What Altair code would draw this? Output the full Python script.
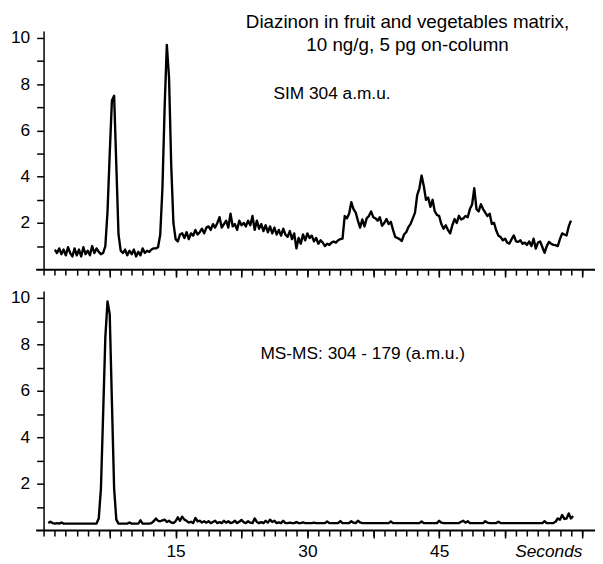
import altair as alt
import pandas as pd

FONT = "Liberation Sans"

# ---- sampled chromatogram traces (time grid start / step in seconds) ----
sample_step = 0.25
sim_start = 1.25
sim_values = [
    0.85, 0.7, 0.9,
    0.65, 0.85, 0.6, 0.95,
    0.7, 0.55, 0.9, 0.6,
    0.85, 0.55, 0.95, 0.65,
    0.8, 0.6, 1.0, 0.7,
    0.9, 0.75, 0.65, 0.7,
    1.0, 2.5, 5.0, 7.3,
    7.5, 4.5, 1.5, 0.8,
    0.7, 0.85, 0.6, 0.8,
    0.65, 0.85, 0.55, 0.75,
    0.6, 0.9, 0.7, 0.8,
    0.75, 0.85, 0.9, 0.9,
    0.95, 1.5, 3.5, 7.0,
    9.7, 8.3, 4.5, 2.0,
    1.3, 1.2, 1.5, 1.55,
    1.35, 1.6, 1.3, 1.55,
    1.45, 1.7, 1.5, 1.6,
    1.75, 1.55, 1.8, 1.85,
    1.7, 1.95, 1.8, 2.0,
    2.25, 1.8, 1.95, 2.1,
    1.8, 2.4, 1.85, 1.95,
    1.7, 2.1, 1.9, 2.0,
    1.85, 2.1, 1.9, 2.3,
    1.7, 2.1, 1.75, 1.95,
    1.65, 1.9, 1.6, 1.85,
    1.55, 1.8, 1.5, 1.7,
    1.45, 1.75, 1.5, 1.4,
    1.65, 1.3, 1.55, 0.9,
    1.35, 1.1, 1.5, 1.25,
    1.55, 1.35, 1.45, 1.2,
    1.35, 1.1, 1.25, 1.15,
    1.0, 1.1, 1.05, 1.15,
    1.2, 1.15, 1.25, 1.3,
    1.32, 2.3, 2.2, 2.4,
    2.9, 2.6, 2.45, 2.1,
    1.8, 2.15, 1.85, 2.2,
    2.3, 2.5, 2.25, 2.2,
    2.1, 2.25, 1.88, 2.0,
    2.17, 1.95, 2.05, 1.7,
    1.4, 1.35, 1.3, 1.22,
    1.5, 1.6, 1.82, 1.96,
    2.2, 2.45, 3.2, 3.5,
    4.05, 3.6, 3.0, 3.1,
    2.7, 3.0, 2.5, 2.35,
    2.3, 1.95, 1.75, 1.9,
    1.7, 1.55, 1.9, 2.17,
    2.0, 2.31, 2.15, 2.2,
    2.3, 2.25, 2.6, 2.8,
    3.5, 2.6, 2.5, 2.81,
    2.6, 2.45, 2.3, 2.4,
    1.96, 2.0, 1.67, 1.45,
    1.39, 1.25, 1.32, 1.15,
    1.11, 1.3, 1.46, 1.2,
    1.18, 1.25, 1.1, 1.15,
    1.05, 1.2, 1.0, 1.32,
    0.89, 1.15, 1.2, 0.95,
    0.71, 1.0, 1.18, 1.1,
    1.05, 1.04, 1.0, 1.3,
    1.55, 1.5, 1.46, 1.85,
    2.1,
]

msms_start = 0.5
msms_values = [
    0.3, 0.36,
    0.3, 0.28, 0.3, 0.28,
    0.33, 0.28, 0.28, 0.28,
    0.28, 0.28, 0.28, 0.28,
    0.28, 0.28, 0.28, 0.28,
    0.28, 0.28, 0.28, 0.28,
    0.28, 0.5, 1.8, 5.0,
    8.3, 9.85, 9.3, 5.5,
    1.8, 0.45, 0.28, 0.28,
    0.28, 0.28, 0.28, 0.33,
    0.28, 0.28, 0.28, 0.28,
    0.42, 0.28, 0.28, 0.28,
    0.28, 0.3, 0.38, 0.5,
    0.4, 0.38, 0.42, 0.45,
    0.35, 0.4, 0.33, 0.3,
    0.38, 0.55, 0.4, 0.58,
    0.45, 0.4, 0.32, 0.36,
    0.3, 0.52, 0.38, 0.4,
    0.33, 0.38, 0.32, 0.38,
    0.3, 0.35, 0.4, 0.3,
    0.34, 0.3, 0.4, 0.32,
    0.38, 0.3, 0.33, 0.4,
    0.3, 0.36, 0.44, 0.34,
    0.3, 0.38, 0.32, 0.3,
    0.5, 0.35, 0.3, 0.34,
    0.3, 0.4, 0.32, 0.45,
    0.35, 0.4, 0.3, 0.33,
    0.3, 0.4, 0.3, 0.3,
    0.32, 0.3, 0.3, 0.35,
    0.3, 0.3, 0.33, 0.3,
    0.3, 0.3, 0.3, 0.32,
    0.3, 0.3, 0.3, 0.3,
    0.3, 0.37, 0.3, 0.3,
    0.3, 0.3, 0.3, 0.39,
    0.3, 0.3, 0.3, 0.3,
    0.38, 0.32, 0.3, 0.4,
    0.33, 0.3, 0.3, 0.3,
    0.3, 0.3, 0.3, 0.3,
    0.3, 0.3, 0.3, 0.3,
    0.3, 0.3, 0.37, 0.3,
    0.3, 0.3, 0.3, 0.3,
    0.3, 0.3, 0.3, 0.3,
    0.3, 0.3, 0.3, 0.3,
    0.37, 0.3, 0.3, 0.3,
    0.3, 0.3, 0.3, 0.3,
    0.4, 0.32, 0.3, 0.3,
    0.3, 0.3, 0.3, 0.3,
    0.3, 0.3, 0.36, 0.4,
    0.32, 0.38, 0.3, 0.3,
    0.3, 0.3, 0.3, 0.3,
    0.3, 0.38, 0.32, 0.3,
    0.3, 0.3, 0.3, 0.36,
    0.3, 0.3, 0.3, 0.3,
    0.3, 0.3, 0.3, 0.3,
    0.3, 0.3, 0.3, 0.3,
    0.3, 0.3, 0.3, 0.3,
    0.3, 0.3, 0.3, 0.3,
    0.38, 0.3, 0.3, 0.3,
    0.3, 0.36, 0.5, 0.45,
    0.65, 0.48, 0.5, 0.72,
    0.5, 0.6,
]

# ---- texts ----
title_lines = ["Diazinon in fruit and vegetables matrix,", "10 ng/g, 5 pg on-column"]
title_t = [41.4, 41.4]
title_v = [10.42, 9.42]
sim_label = "SIM 304 a.m.u."
msms_label = "MS-MS: 304 - 179 (a.m.u.)"
label_t = [32.8, 36.3]
label_v = [7.36, 7.36]

# ---- axes ----
x_domain = [-0.93, 62.74]
y_domain = [0, 10.3]
y_ticks = [1, 2, 3, 4, 5, 6, 7, 8, 9, 10]
y_labelled = [2, 4, 6, 8, 10]
x_minor_ticks = [0, 1.25, 2.5, 3.75, 5, 6.25, 7.5, 8.75, 10, 11.25, 12.5, 13.75,
                 15, 16.25, 17.5, 18.75, 20, 21.25, 22.5, 23.75, 25, 26.25, 27.5,
                 28.75, 30, 31.25, 32.5, 33.75, 35, 36.25, 37.5, 38.75, 40, 41.25,
                 42.5, 43.75, 45, 46.25, 47.5, 48.75, 50, 51.25, 52.5, 53.75, 55,
                 56.25, 57.5, 58.75, 60, 61.25]
x_major_ticks = [7.5, 15, 22.5, 30, 37.5, 45, 52.5, 61.25]
x_labelled = [15, 30, 45]
x_unit = "Seconds"
x_unit_at = 61.25

sim_df = pd.DataFrame({"t": [sim_start + sample_step * i for i in range(len(sim_values))],
                       "v": sim_values})
msms_df = pd.DataFrame({"t": [msms_start + sample_step * i for i in range(len(msms_values))],
                        "v": msms_values})
title_df = pd.DataFrame({"t": title_t, "v": title_v, "label": title_lines})

y_label_expr = "indexof([" + ",".join(str(v) for v in y_labelled) + "], datum.value) >= 0 ? datum.label : ''"
x_label_expr = "".join(f"datum.value == {v} ? '{v}' : " for v in x_labelled) + \
    f"datum.value == {x_unit_at} ? '{x_unit}' : ''"

AX = dict(domainColor="black", tickColor="black", labelColor="black",
          labelFont=FONT, grid=False, title=None)


def xscale():
    return alt.Scale(domain=x_domain, nice=False, zero=False)


def yscale():
    return alt.Scale(domain=y_domain, nice=False, zero=False)


def yaxis():
    return alt.Axis(values=y_ticks, labelExpr=y_label_expr, tickSize=7, labelPadding=7,
                    offset=-8, labelFontSize=17.5, domainWidth=1.5, tickWidth=1.5,
                    labelFlush=False, labelOverlap=False, **AX)


def panel(df, label_text, label_pos, with_labels, with_title, height):
    line = alt.Chart(df).mark_line(color="black", strokeWidth=2.4, strokeJoin="round").encode(
        x=alt.X("t:Q", scale=xscale(),
                axis=alt.Axis(values=x_minor_ticks, tickSize=6, labels=False, orient="bottom",
                              domainWidth=2, tickWidth=1.5, **AX)),
        y=alt.Y("v:Q", scale=yscale(), axis=yaxis()),
    )
    lab_df = pd.DataFrame({"t": [label_t[label_pos]], "v": [label_v[label_pos]], "label": [label_text]})
    major_axis = alt.Axis(values=x_major_ticks, tickSize=8, orient="bottom", domain=False,
                          tickWidth=1.5, labels=with_labels, labelExpr=x_label_expr,
                          labelPadding=5, labelFontSize=17.5, labelFlush=False, labelOverlap=False,
                          labelFontStyle={"condition": {"test": f"datum.value == {x_unit_at}", "value": "italic"},
                                          "value": "normal"},
                          labelAlign={"condition": {"test": f"datum.value == {x_unit_at}", "value": "right"},
                                      "value": "center"},
                          **AX)
    lab = alt.Chart(lab_df).mark_text(font=FONT, fontSize=17.5, color="black", align="center",
                                      baseline="alphabetic").encode(
        x=alt.X("t:Q", scale=xscale(), axis=major_axis),
        y=alt.Y("v:Q", scale=yscale(), axis=yaxis()),
        text="label:N",
    )
    layers = [line, lab]
    if with_title:
        ttl = alt.Chart(title_df).mark_text(font=FONT, fontSize=19, color="black", align="center",
                                            baseline="alphabetic").encode(
            x=alt.X("t:Q", scale=xscale(), axis=None),
            y=alt.Y("v:Q", scale=yscale(), axis=yaxis()),
            text="label:N",
        )
        layers.append(ttl)
    return alt.layer(*layers).resolve_axis(x="independent").properties(width=566, height=height)


top = panel(sim_df, sim_label, 0, False, True, 241)
bottom = panel(msms_df, msms_label, 1, True, False, 242)

chart = alt.vconcat(top, bottom, spacing=11).properties(
    padding={"left": 2, "top": 2, "right": 0, "bottom": 0}
).configure_view(stroke=None)

chart.save("out.html", embed_options={"renderer": "svg", "actions": False})
